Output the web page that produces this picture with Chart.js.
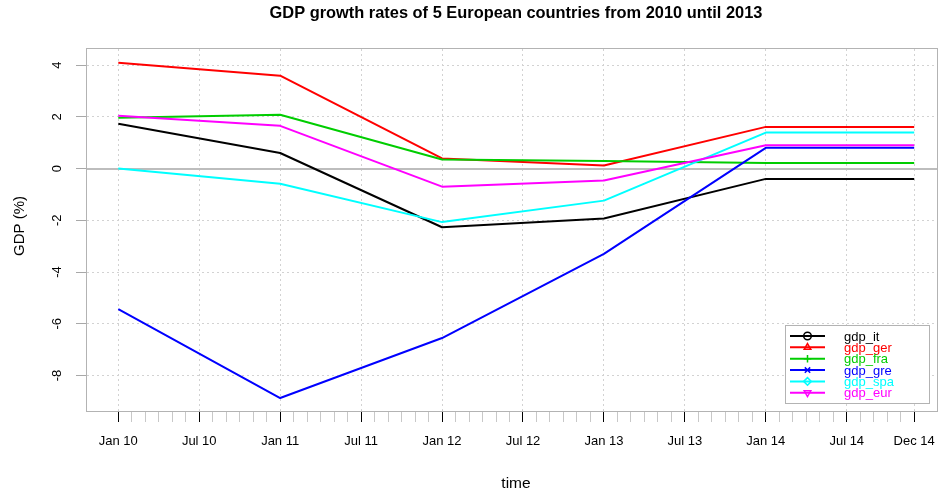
<!DOCTYPE html>
<html><head><meta charset="utf-8">
<script src="https://cdn.jsdelivr.net/npm/chart.js@4.4.1/dist/chart.umd.min.js"></script>
<style>html,body{margin:0;padding:0;background:#fff;}#wrap{width:940px;height:492px;position:relative;}</style>
</head><body><div id="wrap"><canvas id="c" width="940" height="492"></canvas></div>
<script>
// ---- data ----
const chartTitle = 'GDP growth rates of 5 European countries from 2010 until 2013';
const xTitle = 'time';
const yTitle = 'GDP (%)';
const periodLabels = ['Jan 10', 'Jan 11', 'Jan 12', 'Jan 13', 'Jan 14', 'Dec 14'];
const periodMonths = [0, 12, 24, 36, 48, 59]; // months since Jan 2010
const gdp_it  = [1.73, 0.60, -2.27, -1.93, -0.40, -0.40];
const gdp_ger = [4.09, 3.59, 0.39, 0.12, 1.61, 1.61];
const gdp_fra = [1.96, 2.08, 0.35, 0.29, 0.21, 0.21];
const gdp_gre = [-5.43, -8.87, -6.55, -3.30, 0.80, 0.80];
const gdp_spa = [0.00, -0.59, -2.07, -1.24, 1.39, 1.39];
const gdp_eur = [2.04, 1.65, -0.70, -0.46, 0.90, 0.90];
const seriesNames = ['gdp_it', 'gdp_ger', 'gdp_fra', 'gdp_gre', 'gdp_spa', 'gdp_eur'];
const tickMonths = [0, 6, 12, 18, 24, 30, 36, 42, 48, 54, 59];
const tickLabels = ['Jan 10', 'Jul 10', 'Jan 11', 'Jul 11', 'Jan 12', 'Jul 12', 'Jan 13', 'Jul 13', 'Jan 14', 'Jul 14', 'Dec 14'];
const yTickValues = [-8, -6, -4, -2, 0, 2, 4];

// ---- styles ----
const seriesValues = [gdp_it, gdp_ger, gdp_fra, gdp_gre, gdp_spa, gdp_eur];
const colors = ['#000000', '#ff0000', '#00cd00', '#0000ff', '#00ffff', '#ff00ff'];
const markers = [
  {style: 'circle', rot: 0}, {style: 'triangle', rot: 0}, {style: 'cross', rot: 0},
  {style: 'crossRot', rot: 0}, {style: 'rectRot', rot: 0}, {style: 'triangle', rot: 180}
];
const FONT = '"Liberation Sans", Arial, Helvetica, sans-serif';
const lastMonth = periodMonths[periodMonths.length - 1];

const datasets = seriesNames.map((name, i) => ({
  label: name,
  data: periodMonths.map((m, j) => ({x: m, y: seriesValues[i][j]})),
  borderColor: colors[i],
  backgroundColor: colors[i],
  borderWidth: 2,
  pointRadius: 0,
  pointHoverRadius: 0,
  tension: 0,
  borderJoinStyle: 'round',
  fill: false,
  order: seriesNames.length - 1 - i
}));

const decor = {
  id: 'decor',
  beforeDatasetsDraw(chart) {
    const ctx = chart.ctx, a = chart.chartArea, y = chart.scales.y.getPixelForValue(0);
    ctx.save();
    ctx.strokeStyle = '#bdbdbd';
    ctx.lineWidth = 2;
    ctx.beginPath();
    ctx.moveTo(a.left, Math.round(y));
    ctx.lineTo(a.right, Math.round(y));
    ctx.stroke();
    ctx.restore();
  },
  afterDraw(chart) {
    const ctx = chart.ctx, a = chart.chartArea;
    ctx.save();
    // plot box
    ctx.strokeStyle = '#b3b3b3';
    ctx.lineWidth = 1;
    ctx.strokeRect(a.left - 0.5, a.top - 0.5, a.right - a.left + 1, a.bottom - a.top + 1);
    // titles
    ctx.fillStyle = '#000';
    ctx.textAlign = 'center';
    ctx.textBaseline = 'alphabetic';
    ctx.font = 'bold 16.4px ' + FONT;
    ctx.fillText(chartTitle, 516, 18);
    ctx.font = '15.5px ' + FONT;
    ctx.fillText(xTitle, 516, 488);
    ctx.save();
    ctx.translate(23.5, 226);
    ctx.rotate(-Math.PI / 2);
    ctx.font = '15px ' + FONT;
    ctx.fillText(yTitle, 0, 0);
    ctx.restore();
    // legend
    const bx = 785, by = 325, bw = 144, bh = 78;
    ctx.fillStyle = '#fff';
    ctx.fillRect(bx, by, bw, bh);
    ctx.strokeStyle = '#b3b3b3';
    ctx.strokeRect(bx + 0.5, by + 0.5, bw, bh);
    ctx.font = '13px ' + FONT;
    ctx.textAlign = 'left';
    ctx.textBaseline = 'middle';
    seriesNames.forEach((name, i) => {
      const y = 336 + i * 11.35;
      ctx.strokeStyle = colors[i];
      ctx.lineWidth = 2;
      ctx.beginPath();
      ctx.moveTo(790, y);
      ctx.lineTo(825, y);
      ctx.stroke();
      ctx.fillStyle = 'rgba(0,0,0,0)';
      ctx.lineWidth = 1.5;
      Chart.helpers.drawPoint(ctx, {pointStyle: markers[i].style, rotation: markers[i].rot, radius: 3.8, borderWidth: 1.5}, 807.5, y);
      ctx.fillStyle = colors[i];
      ctx.fillText(name, 844, y + 1);
    });
    ctx.restore();
  }
};

new Chart(document.getElementById('c'), {
  type: 'line',
  data: {datasets},
  options: {
    responsive: false,
    animation: false,
    events: [],
    layout: {padding: {left: 0, right: 3, top: 49, bottom: 0}},
    plugins: {legend: {display: false}, title: {display: false}, tooltip: {enabled: false}},
    scales: {
      x: {
        type: 'linear',
        min: -2.32,
        max: 60.69,
        afterBuildTicks(scale) {
          const t = [];
          for (let m = 0; m <= lastMonth; m++) t.push({value: m});
          scale.ticks = t;
        },
        afterFit(scale) { scale.height = 81; scale.paddingLeft = 0; scale.paddingRight = 0; },
        border: {display: false, dash: [2, 3]},
        grid: {
          drawOnChartArea: true,
          color: (c) => tickMonths.includes(c.tick && c.tick.value) ? '#d2d2d2' : 'rgba(0,0,0,0)',
          lineWidth: 1,
          drawTicks: true,
          tickLength: 11,
          tickBorderDash: [],
          tickWidth: 1,
          tickColor: (c) => tickMonths.includes(c.tick && c.tick.value) ? '#000000' : '#c8c8c8'
        },
        ticks: {
          autoSkip: false,
          maxRotation: 0,
          minRotation: 0,
          padding: 12,
          color: '#000',
          font: {family: FONT, size: 13},
          callback: (v) => { const k = tickMonths.indexOf(v); return k >= 0 ? tickLabels[k] : ''; }
        }
      },
      y: {
        type: 'linear',
        min: -9.37,
        max: 4.62,
        afterBuildTicks(scale) { scale.ticks = yTickValues.map(v => ({value: v})); },
        afterFit(scale) { scale.width = 87; scale.paddingTop = 0; scale.paddingBottom = 0; },
        border: {display: false, dash: [2, 3]},
        grid: {
          color: (c) => (c.tick && c.tick.value === 0) ? 'rgba(0,0,0,0)' : '#d2d2d2',
          lineWidth: 1,
          drawTicks: true,
          tickLength: 11,
          tickBorderDash: [],
          tickWidth: 1,
          tickColor: '#a8a8a8'
        },
        ticks: {
          minRotation: 90,
          maxRotation: 90,
          crossAlign: 'center',
          padding: 13,
          color: '#000',
          font: {family: FONT, size: 13},
          callback: (v) => String(v)
        }
      }
    }
  },
  plugins: [decor]
});
</script>
</body></html>
